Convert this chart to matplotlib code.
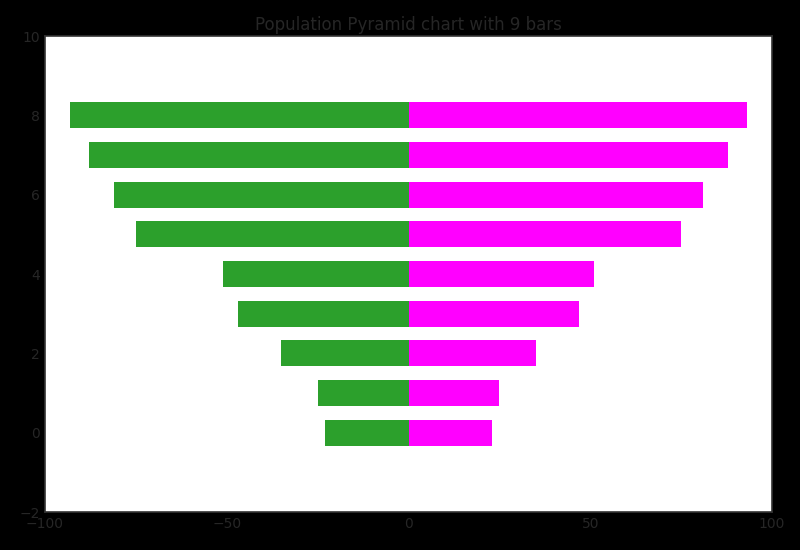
import numpy as np
import matplotlib
matplotlib.use('Agg')
import matplotlib.pyplot as plt

# age groups and population values
groups = np.arange(9)
left_vals = [23, 25, 35, 47, 51, 75, 81, 88, 93]
right_vals = [23, 25, 35, 47, 51, 75, 81, 88, 93]

fig = plt.figure(figsize=(8, 5.5), dpi=100, facecolor='black')
ax = fig.add_axes([0.05625, 0.069, 0.90875, 0.8655])
ax.set_facecolor('white')

ax.barh(groups, [-v for v in left_vals], height=0.65, color='#2ca02c')
ax.barh(groups, right_vals, height=0.65, color='#ff00ff')

ax.set_xlim(-100, 100)
ax.set_ylim(-2, 10)
ax.set_xticks([-100, -50, 0, 50, 100])
ax.set_yticks([-2, 0, 2, 4, 6, 8, 10])

txt = '#262626'
ax.tick_params(length=0, colors=txt, labelsize=10)
for s in ax.spines.values():
    s.set_color('#333333')
    s.set_linewidth(1.2)

ax.set_title('Population Pyramid chart with 9 bars', color=txt, fontsize=12, pad=4.5)

fig.savefig('out.png', dpi=100, facecolor='black')
